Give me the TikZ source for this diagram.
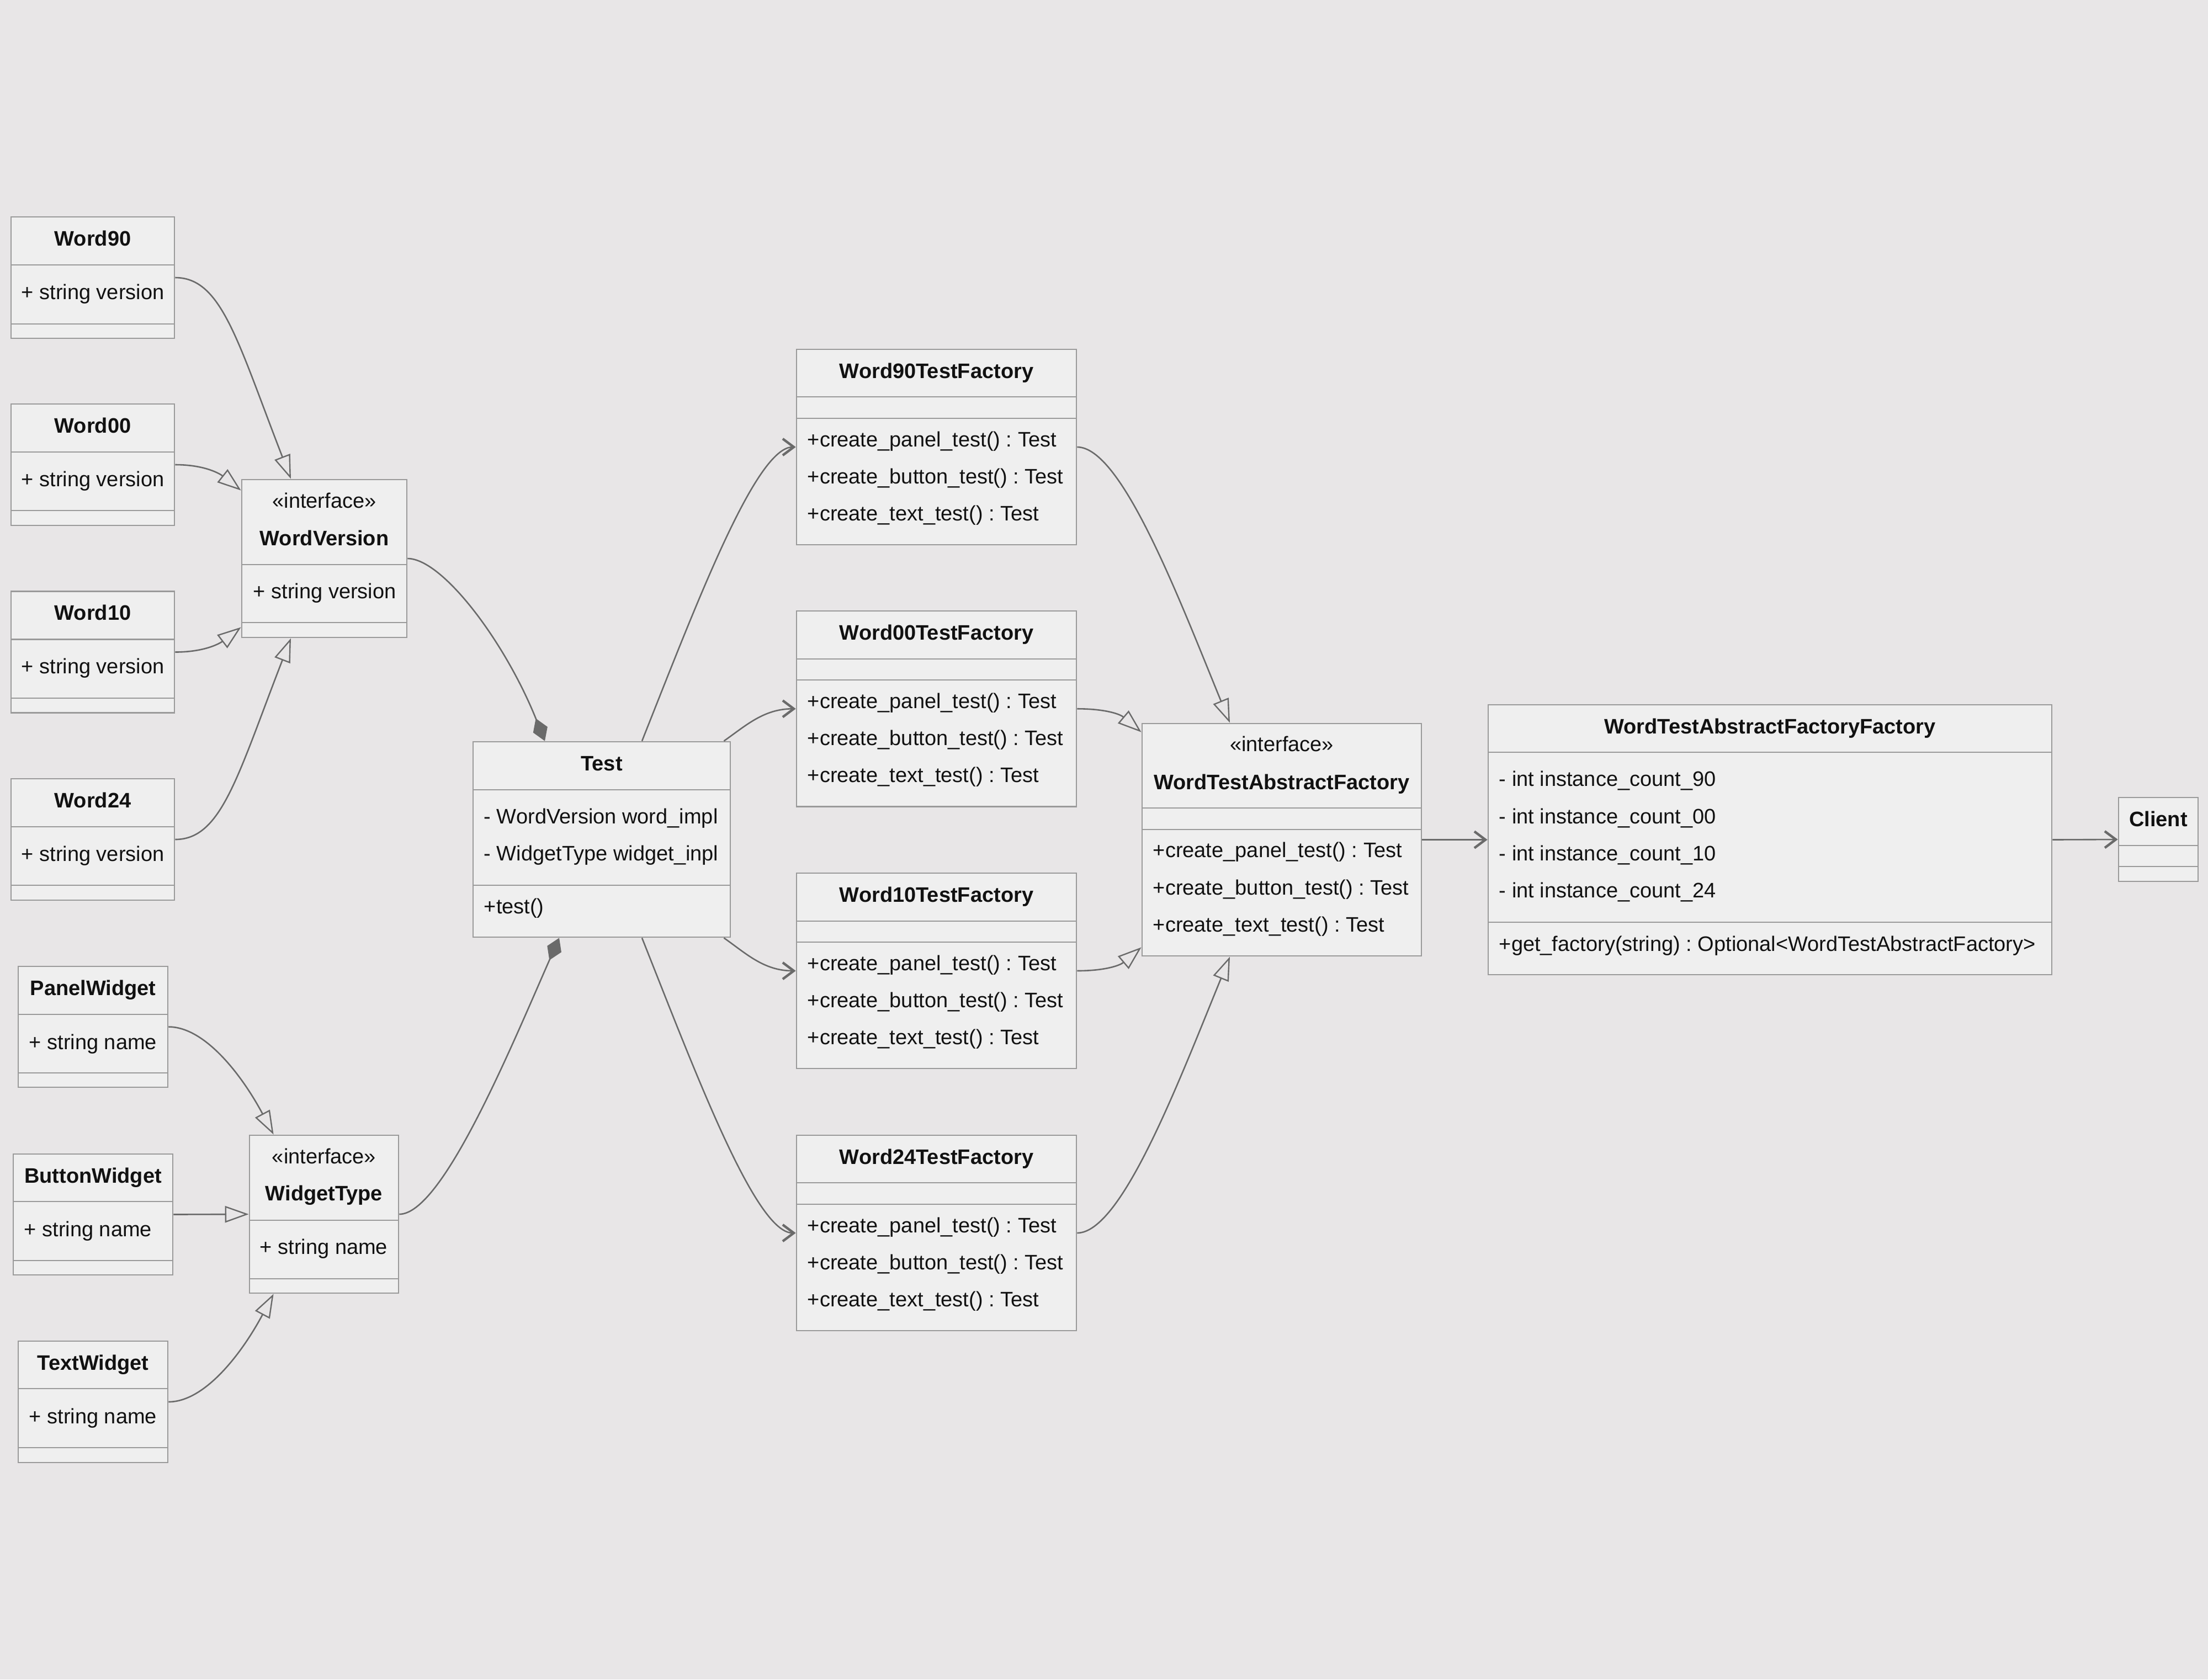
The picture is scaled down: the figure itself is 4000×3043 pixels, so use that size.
\documentclass[tikz,border=0pt]{standalone}
\usepackage{fontspec}
\setmainfont{Liberation Sans}
\usetikzlibrary{arrows.meta,fit,calc}
\definecolor{bg}{HTML}{E8E6E7}
\definecolor{boxfill}{HTML}{EFEFEF}
\definecolor{boxline}{HTML}{9A9A9A}
\definecolor{edgecol}{HTML}{6A6A6A}
\definecolor{txt}{HTML}{111111}
\newcommand\fsz{\fontsize{9.5pt}{11pt}\selectfont}
\frenchspacing
\tikzset{
  cls/.style={draw=boxline, fill=boxfill, line width=0.7pt, inner sep=0pt, rectangle},
  divl/.style={draw=boxline, line width=0.7pt},
  nm/.style={anchor=base, font=\fsz\bfseries, text=txt, inner sep=0pt},
  st/.style={anchor=base, font=\fsz, text=txt, inner sep=0pt},
  mb/.style={anchor=base west, font=\fsz, text=txt, inner sep=0pt},
  edge/.style={draw=edgecol, line width=0.65pt},
  real/.style={edge, -{Triangle[open, length=10.75pt, width=7.5pt, line width=0.6pt]}},
  comp/.style={edge, -{Diamond[length=11pt, width=7pt, fill=edgecol, line width=0.3pt]}},
  dep/.style={edge, -{Straight Barb[length=5pt, width=7.5pt, line width=1.1pt]}},
}
\begin{document}
\begin{tikzpicture}[x=0.25pt,y=-0.25pt]
\path[use as bounding box, fill=bg] (0,0) rectangle (4000,3043);

% ---------- Word classes ----------
\node[cls, fit={(20,393) (316,613)}] (w90) {};
\draw[divl] (20,480) -- (316,480); \draw[divl] (20,587) -- (316,587);
\node[nm] (w90n) at (168,445) {Word90};
\node[mb] (w90a) at (38,542) {+ string version};

\node[cls, fit={(20,732) (316,952)}] (w00) {};
\draw[divl] (20,819) -- (316,819); \draw[divl] (20,925) -- (316,925);
\node[nm] (w00n) at (168,784) {Word00};
\node[mb] (w00a) at (38,881) {+ string version};

\node[cls, fit={(20,1071.5) (316,1291.5)}] (w10) {};
\draw[divl] (20,1158.5) -- (316,1158.5); \draw[divl] (20,1265) -- (316,1265);
\node[nm] (w10n) at (168,1123.5) {Word10};
\node[mb] (w10a) at (38,1220.5) {+ string version};

\node[cls, fit={(20,1411) (316,1631)}] (w24) {};
\draw[divl] (20,1498) -- (316,1498); \draw[divl] (20,1604) -- (316,1604);
\node[nm] (w24n) at (168,1463) {Word24};
\node[mb] (w24a) at (38,1560) {+ string version};

% ---------- WordVersion ----------
\node[cls, fit={(438,869) (737,1155)}] (wv) {};
\draw[divl] (438,1023) -- (737,1023); \draw[divl] (438,1128) -- (737,1128);
\node[st] (wvs) at (587.5,920) {«interface»};
\node[nm] (wvn) at (587.5,988) {WordVersion};
\node[mb] (wva) at (458,1084) {+ string version};

% ---------- Widget classes ----------
\node[cls, fit={(33,1751) (304,1970)}] (pw) {};
\draw[divl] (33,1838) -- (304,1838); \draw[divl] (33,1944) -- (304,1944);
\node[nm] (pwn) at (168.5,1803) {PanelWidget};
\node[mb] (pwa) at (52,1901) {+ string name};

\node[cls, fit={(24,2091) (313,2310)}] (bw) {};
\draw[divl] (24,2177) -- (313,2177); \draw[divl] (24,2284) -- (313,2284);
\node[nm] (bwn) at (168.5,2143) {ButtonWidget};
\node[mb] (bwa) at (43,2240) {+ string name};

\node[cls, fit={(33,2430) (304,2650)}] (tw) {};
\draw[divl] (33,2516) -- (304,2516); \draw[divl] (33,2623) -- (304,2623);
\node[nm] (twn) at (168.5,2482) {TextWidget};
\node[mb] (twa) at (52,2579) {+ string name};

% ---------- WidgetType ----------
\node[cls, fit={(452,2057) (722,2343)}] (wt) {};
\draw[divl] (452,2211) -- (722,2211); \draw[divl] (452,2317) -- (722,2317);
\node[st] (wts) at (587,2108) {«interface»};
\node[nm] (wtn) at (587,2175) {WidgetType};
\node[mb] (wta) at (470,2272) {+ string name};

% ---------- Test ----------
\node[cls, fit={(857,1344) (1323,1698)}] (test) {};
\draw[divl] (857,1431) -- (1323,1431); \draw[divl] (857,1604) -- (1323,1604);
\node[nm] (testn) at (1090,1396) {Test};
\node[mb] (testa1) at (876,1492) {- WordVersion word\_impl};
\node[mb] (testa2) at (876,1559) {- WidgetType widget\_inpl};
\node[mb] (testm) at (876,1655) {+test()};

% ---------- Factories ----------
\node[cls, fit={(1443,633) (1950,987)}] (f90) {};
\draw[divl] (1443,719) -- (1950,719); \draw[divl] (1443,758) -- (1950,758);
\node[nm] (f90n) at (1696.5,685) {Word90TestFactory};
\node[mb] (f90m1) at (1462,809) {+create\_panel\_test() : Test};
\node[mb] (f90m2) at (1462,876) {+create\_button\_test() : Test};
\node[mb] (f90m3) at (1462,943) {+create\_text\_test() : Test};

\node[cls, fit={(1443,1107) (1950,1461.5)}] (f00) {};
\draw[divl] (1443,1194) -- (1950,1194); \draw[divl] (1443,1232) -- (1950,1232);
\node[nm] (f00n) at (1696.5,1159) {Word00TestFactory};
\node[mb] (f00m1) at (1462,1283) {+create\_panel\_test() : Test};
\node[mb] (f00m2) at (1462,1350) {+create\_button\_test() : Test};
\node[mb] (f00m3) at (1462,1417) {+create\_text\_test() : Test};

\node[cls, fit={(1443,1582) (1950,1936)}] (f10) {};
\draw[divl] (1443,1669) -- (1950,1669); \draw[divl] (1443,1707) -- (1950,1707);
\node[nm] (f10n) at (1696.5,1634) {Word10TestFactory};
\node[mb] (f10m1) at (1462,1758) {+create\_panel\_test() : Test};
\node[mb] (f10m2) at (1462,1825) {+create\_button\_test() : Test};
\node[mb] (f10m3) at (1462,1892) {+create\_text\_test() : Test};

\node[cls, fit={(1443,2057) (1950,2411)}] (f24) {};
\draw[divl] (1443,2143) -- (1950,2143); \draw[divl] (1443,2182) -- (1950,2182);
\node[nm] (f24n) at (1696.5,2109) {Word24TestFactory};
\node[mb] (f24m1) at (1462,2233) {+create\_panel\_test() : Test};
\node[mb] (f24m2) at (1462,2300) {+create\_button\_test() : Test};
\node[mb] (f24m3) at (1462,2367) {+create\_text\_test() : Test};

% ---------- WordTestAbstractFactory ----------
\node[cls, fit={(2069,1311) (2575,1732)}] (wtaf) {};
\draw[divl] (2069,1464) -- (2575,1464); \draw[divl] (2069,1503) -- (2575,1503);
\node[st] (wtafs) at (2322,1361) {«interface»};
\node[nm] (wtafn) at (2322,1430) {WordTestAbstractFactory};
\node[mb] (wtafm1) at (2088,1553) {+create\_panel\_test() : Test};
\node[mb] (wtafm2) at (2088,1621) {+create\_button\_test() : Test};
\node[mb] (wtafm3) at (2088,1688) {+create\_text\_test() : Test};

% ---------- WordTestAbstractFactoryFactory ----------
\node[cls, fit={(2696,1277) (3717,1766)}] (wtaff) {};
\draw[divl] (2696,1363) -- (3717,1363); \draw[divl] (2696,1671) -- (3717,1671);
\node[nm] (wtaffn) at (3206.5,1329) {WordTestAbstractFactoryFactory};
\node[mb] (wtaffa1) at (2715,1424) {- int instance\_count\_90};
\node[mb] (wtaffa2) at (2715,1492) {- int instance\_count\_00};
\node[mb] (wtaffa3) at (2715,1559) {- int instance\_count\_10};
\node[mb] (wtaffa4) at (2715,1626) {- int instance\_count\_24};
\node[mb] (wtaffm) at (2715,1723) {+get\_factory(string) : Optional<WordTestAbstractFactory>};

% ---------- Client ----------
\node[cls, fit={(3838,1445) (3982,1597)}] (client) {};
\draw[divl] (3838,1532) -- (3982,1532); \draw[divl] (3838,1570) -- (3982,1570);
\node[nm] (clientn) at (3910,1497) {Client};

% ---------- Connectors ----------
\draw[real] (w90.east) .. controls +(84,0) and +(-97,-250) .. ($(wv.north)+(-60.5,0)$);
\draw[real] (w00.east) .. controls +(54,0) and +(-38,-30) .. ($(wv.north west)+(0,21)$);
\draw[real] (w10.east) .. controls +(54,0) and +(-38,29) .. ($(wv.south west)+(0,-20)$);
\draw[real] (w24.east) .. controls +(84,0) and +(-97,250) .. ($(wv.south)+(-60.5,0)$);

\draw[comp] (wv.east) .. controls +(63,0) and +(-72,-180) .. ($(test.north)+(-103,0)$);
\draw[comp] (wt.east) .. controls +(78,0) and +(-88,200) .. ($(test.south)+(-77,0)$);

\draw[real] (pw.east) .. controls +(66,0) and +(-57,-107) .. ($(wt.north west)+(45,0)$);
\draw[real] (bw.east) -- (wt.west);
\draw[real] (tw.east) .. controls +(66,0) and +(-57,107) .. ($(wt.south west)+(45,0)$);

\draw[dep] ($(test.north)+(73,0)$) .. controls +(97,-244) and +(-73,0) .. (f90.west);
\draw[dep] ($(test.north east)+(-13,0)$) .. controls +(40,-28) and +(-58,0) .. (f00.west);
\draw[dep] ($(test.south east)+(-13,0)$) .. controls +(40,28) and +(-58,0) .. (f10.west);
\draw[dep] ($(test.south)+(73,0)$) .. controls +(97,244) and +(-73,0) .. (f24.west);

\draw[real] (f90.east) .. controls +(80,0) and +(-94,-230) .. ($(wtaf.north)+(-94,0)$);
\draw[real] (f00.east) .. controls +(50,0) and +(-39,-33) .. ($(wtaf.north west)+(0,17)$);
\draw[real] (f10.east) .. controls +(50,0) and +(-39,33) .. ($(wtaf.south west)+(0,-17)$);
\draw[real] (f24.east) .. controls +(80,0) and +(-94,230) .. ($(wtaf.south)+(-94,0)$);

\draw[dep] (wtaf.east) -- (wtaff.west);
\draw[dep] (wtaff.east) -- (client.west);
\end{tikzpicture}
\end{document}
